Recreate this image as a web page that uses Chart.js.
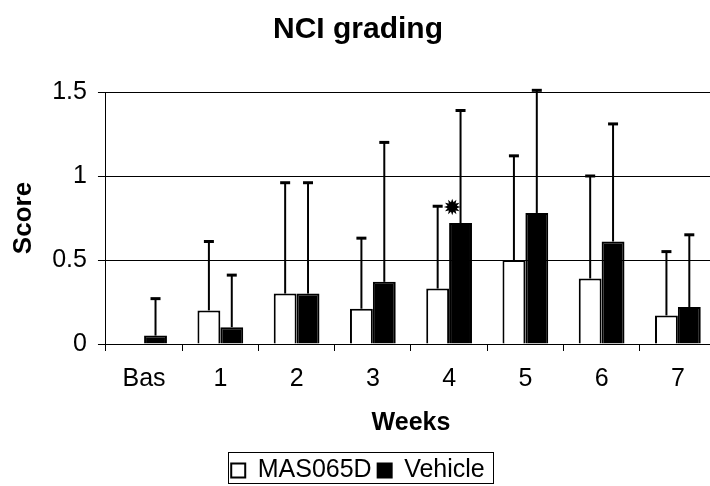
<!DOCTYPE html>
<html>
<head>
<meta charset="utf-8">
<script src="https://cdn.jsdelivr.net/npm/chart.js@4"></script>
<style>
  body { margin: 0; background: #fff; overflow: hidden; }
  #wrap { width: 724px; height: 493px; position: relative; }
</style>
</head>
<body>
<div id="wrap"><canvas id="grafico"></canvas></div>
<script>
// dados
var semanas = ['Bas', '1', '2', '3', '4', '5', '6', '7'];
var masMedia = [0, 0.20, 0.30, 0.21, 0.33, 0.50, 0.39, 0.17];
var masErro = [null, 0.61, 0.96, 0.63, 0.82, 1.12, 1.00, 0.55];
var veiculoMedia = [0.05, 0.10, 0.30, 0.37, 0.72, 0.78, 0.61, 0.22];
var veiculoErro = [0.27, 0.41, 0.96, 1.20, 1.39, 1.51, 1.31, 0.65];
// asterisco de significância
var sigSemana = ['4'];
var sigValor = [0.8];

var fonte = "'Liberation Sans', Arial, sans-serif";

// desenha as barras de erro (só para cima)
var barrasErro = {
  id: 'barrasErro',
  afterDatasetsDraw: function (chart) {
    var ctx = chart.ctx;
    var y = chart.scales.y;
    chart.data.datasets.forEach(function (ds, d) {
      var meta = chart.getDatasetMeta(d);
      meta.data.forEach(function (bar, i) {
        var e = ds.erro[i];
        if (e == null) return;
        var yTopo = y.getPixelForValue(e);
        ctx.save();
        ctx.strokeStyle = '#000';
        ctx.lineWidth = 2;
        ctx.beginPath();
        ctx.moveTo(bar.x, bar.y);
        ctx.lineTo(bar.x, yTopo);
        ctx.stroke();
        ctx.lineWidth = 3;
        ctx.beginPath();
        ctx.moveTo(bar.x - 5, yTopo);
        ctx.lineTo(bar.x + 5, yTopo);
        ctx.stroke();
        ctx.restore();
      });
    });
    // asterisco
    var x = chart.scales.x;
    for (var k = 0; k < sigSemana.length; k++) {
      var px = x.getPixelForValue(semanas.indexOf(sigSemana[k]));
      var py = y.getPixelForValue(sigValor[k]);
      ctx.save();
      ctx.fillStyle = '#000';
      ctx.font = "22px 'DejaVu Sans'";
      ctx.textAlign = 'center';
      ctx.textBaseline = 'middle';
      ctx.fillText('\u2739', px + 3, py);
      ctx.restore();
    }
  }
};

// moldura da legenda
var moldura = {
  id: 'moldura',
  afterDraw: function (chart) {
    var ctx = chart.ctx;
    ctx.save();
    ctx.strokeStyle = '#000';
    ctx.lineWidth = 1;
    ctx.strokeRect(228.5, 452.5, 265, 31);
    ctx.restore();
  }
};

const config = {
  type: 'bar',
  data: {
    labels: semanas,
    datasets: [{
      label: 'MAS065D',
      data: masMedia,
      erro: masErro,
      backgroundColor: '#fff',
      borderColor: '#000',
      borderWidth: 2,
      borderSkipped: 'bottom'
    }, {
      label: 'Vehicle',
      data: veiculoMedia,
      erro: veiculoErro,
      backgroundColor: '#000',
      borderColor: '#000',
      borderWidth: 2,
      borderSkipped: 'bottom'
    }]
  },
  options: {
    responsive: true,
    maintainAspectRatio: false,
    animation: false,
    categoryPercentage: 0.6,
    barPercentage: 1,
    layout: { padding: { left: 0, right: 8, top: 0, bottom: 0 } },
    plugins: {
      title: {
        display: true,
        text: 'NCI grading',
        color: '#000',
        font: { family: fonte, size: 30, weight: 'bold' },
        padding: { top: 12, bottom: 44 }
      },
      legend: {
        position: 'bottom',
        labels: {
          color: '#000',
          font: { family: fonte, size: 25 },
          boxWidth: 14,
          boxHeight: 14,
          padding: 6
        }
      },
      tooltip: { enabled: false }
    },
    scales: {
      x: {
        border: { color: '#000', width: 1 },
        grid: { offset: true, drawOnChartArea: false, color: '#000', tickLength: 7 },
        ticks: { color: '#000', font: { family: fonte, size: 25 }, padding: 13 },
        title: {
          display: true,
          text: 'Weeks',
          color: '#000',
          font: { family: fonte, size: 25, weight: 'bold' },
          padding: { top: 1, bottom: 14 }
        }
      },
      y: {
        min: 0,
        max: 1.5,
        border: { color: '#000', width: 1 },
        grid: { color: '#000', tickLength: 8 },
        ticks: {
          stepSize: 0.5,
          color: '#000',
          font: { family: fonte, size: 25 },
          padding: 11,
          callback: function (v) { return String(v); }
        },
        title: {
          display: true,
          text: 'Score',
          color: '#000',
          font: { family: fonte, size: 26, weight: 'bold' },
          padding: { top: 8, bottom: 2 }
        }
      }
    }
  },
  plugins: [barrasErro, moldura]
};

let grafico = new Chart(document.getElementById('grafico'), config);
</script>
</body>
</html>
